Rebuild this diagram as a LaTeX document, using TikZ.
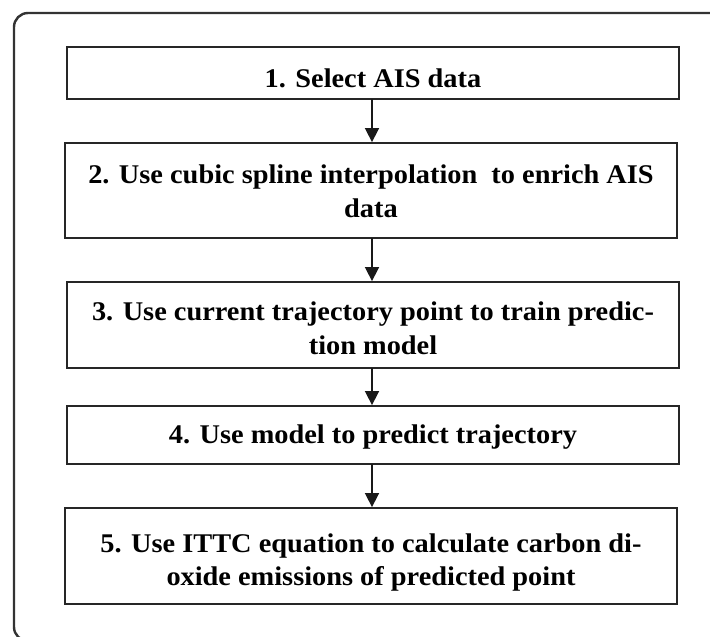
\documentclass[tikz,border=0pt]{standalone}
\usepackage{fontspec}
\setmainfont{Liberation Serif}[FakeStretch=1.05]
\usetikzlibrary{arrows.meta}

\tikzset{
  stepbox/.style={draw=black!85, line width=1.8pt, minimum width=612pt,
    inner sep=0pt},
  steptext/.style={anchor=base, inner sep=0pt,
    font=\fontsize{27}{34}\selectfont\bfseries},
  flow/.style={draw=black!90, line width=1.6pt,
    -{Triangle[width=14pt,length=14pt]}},
  frame/.style={draw=black!80, line width=2.4pt, rounded corners=14pt}
}

\begin{document}
\begin{tikzpicture}[x=1pt,y=-1pt]
  \useasboundingbox (0,0) rectangle (710,637);
  \clip (0,0) rectangle (710,637);

  % surrounding frame, running past the right and lower edges
  \draw[frame] (14,13) rectangle (730,641);

  % process step boxes
  \node[stepbox, minimum height=52pt] (b1) at (373,73) {};
  \node[stepbox, minimum height=95pt] (b2) at (371,190.5) {};
  \node[stepbox, minimum height=86pt] (b3) at (373,325) {};
  \node[stepbox, minimum height=58pt] (b4) at (373,435) {};
  \node[stepbox, minimum height=96pt] (b5) at (371,556) {};

  % step texts, one node per printed line, placed on their baselines
  \node[steptext] (t1)  at (373,87)  {1. Select AIS data};
  \node[steptext] (t2a) at (371,183) {2. Use cubic spline interpolation\ \ to enrich AIS};
  \node[steptext] (t2b) at (371,217) {data};
  \node[steptext] (t3a) at (373,320) {3. Use current trajectory point to train predic-};
  \node[steptext] (t3b) at (373,354) {tion model};
  \node[steptext] (t4)  at (373,443) {4. Use model to predict trajectory};
  \node[steptext] (t5a) at (371,552) {5. Use ITTC equation to calculate carbon di-};
  \node[steptext] (t5b) at (371,585) {oxide emissions of predicted point};

  % connectors
  \coordinate (a1) at (372,99);
  \coordinate (a2) at (372,238);
  \coordinate (a3) at (372,368);
  \coordinate (a4) at (372,464);
  \draw[flow] (a1) -- (a1 |- b2.north);
  \draw[flow] (a2) -- (a2 |- b3.north);
  \draw[flow] (a3) -- (a3 |- b4.north);
  \draw[flow] (a4) -- (a4 |- b5.north);
\end{tikzpicture}
\end{document}
